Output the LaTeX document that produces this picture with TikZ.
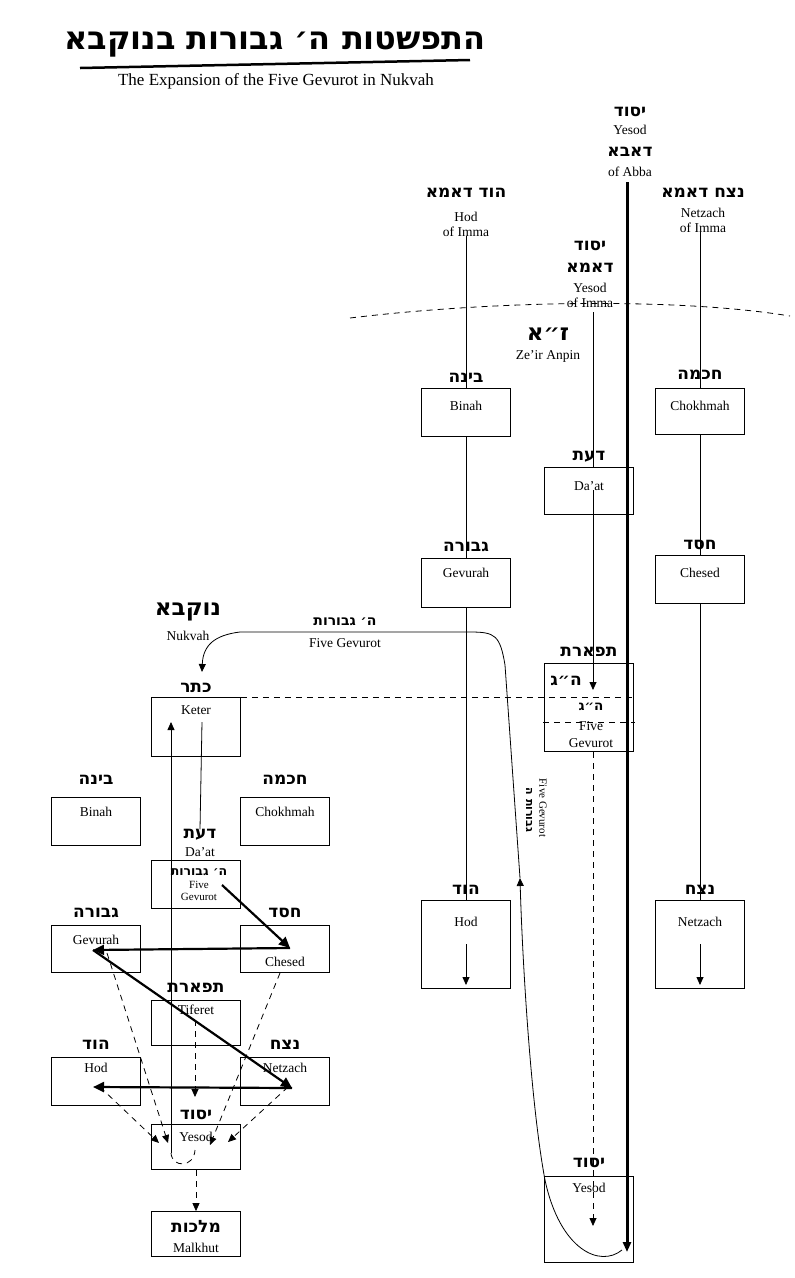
\documentclass[tikz,border=0pt]{standalone}
\usepackage{fontspec}
\setmainfont{Liberation Serif}
\newfontfamily\hebf{DejaVu Sans}
\TeXXeTstate=1
\newcommand{\heb}[1]{{\hebf\bfseries\beginR #1\endR}}
\usetikzlibrary{arrows.meta}

\tikzset{
  box/.style={draw,thick,minimum width=89pt,inner sep=0pt},
  en/.style={font=\fontsize{13.5}{15}\selectfont,inner sep=0pt},
  hb/.style={font=\fontsize{17}{18}\selectfont,inner sep=0pt},
  hbig/.style={font=\fontsize{23}{24}\selectfont,inner sep=0pt},
  dsh/.style={dashed,dash pattern=on 6pt off 5pt,thick},
  tip/.style={-{Triangle[length=8pt,width=7pt]}},
  fat/.style={line width=2.2pt,-{Triangle[length=11pt,width=10pt]}},
}

\begin{document}
\begin{tikzpicture}[x=1pt,y=-1pt]
  \useasboundingbox (0,0) rectangle (795,1278);

  % title
  \node[font=\fontsize{32}{33}\selectfont,inner sep=0pt] (title) at (275,44) {\heb{התפשטות ה׳ גבורות בנוקבא}};
  \draw[line width=2.5pt] (80,68) -- (470,60);
  \node[font=\fontsize{17}{18}\selectfont,inner sep=0pt] (sub) at (276,81) {The Expansion of the Five Gevurot in Nukvah};

  % upper partzufim
  \node[hb] (abbaH) at (630,112) {\heb{יסוד}};
  \node[en] (abbaE) at (630,130) {Yesod};
  \node[hb] (abbaH2) at (630,152) {\heb{דאבא}};
  \node[en] (abbaE2) at (630,172) {of Abba};
  \node[hb] (hodIH) at (466,193) {\heb{הוד דאמא}};
  \node[en,align=center] (hodIE) at (466,224) {Hod\\of Imma};
  \node[hb] (netIH) at (703,193) {\heb{נצח דאמא}};
  \node[en,align=center] (netIE) at (703,220) {Netzach\\of Imma};
  \node[hb] (yesIH) at (590,246) {\heb{יסוד}};
  \node[hb] (yesIH2) at (590,268) {\heb{דאמא}};
  \node[en,align=center] (yesIE) at (590,295) {Yesod\\of Imma};
  \draw[dsh] (350,318) .. controls (500,300) and (680,298) .. (790,316);
  \node[hbig] (zaH) at (548,334) {\heb{ז״א}};
  \node[en] (zaE) at (548,356) {Ze'ir Anpin};

  % Ze'ir Anpin sefirot
  \node[box,minimum height=48pt] (zBin) at (466,412) {};
  \node[hb] at (466,378) {\heb{בינה}};  \node[en] at (466,406) {Binah};
  \node[box,minimum height=46pt] (zChok) at (700,411) {};
  \node[hb] at (700,375) {\heb{חכמה}};  \node[en] at (700,406) {Chokhmah};
  \node[box,minimum height=47pt] (zDaat) at (589,491) {};
  \node[hb] at (589,457) {\heb{דעת}};  \node[en] at (589,486) {Da'at};
  \node[box,minimum height=49pt] (zGev) at (466,583) {};
  \node[hb] at (466,547) {\heb{גבורה}};  \node[en] at (466,573) {Gevurah};
  \node[box,minimum height=48pt] (zChes) at (700,579) {};
  \node[hb] at (700,545) {\heb{חסד}};  \node[en] at (700,573) {Chesed};
  \node[box,minimum height=88pt] (zTif) at (589,707) {};
  \node[hb] at (589,652) {\heb{תפארת}};
  \node[hb] at (566,681) {\heb{ה״ג}};
  \node[en] at (591,707) {\heb{ה״ג}};
  \node[en] at (591,726) {Five};
  \node[en] at (591,743) {Gevurot};
  \node[box,minimum height=88pt] (zHod) at (466,944) {};
  \node[hb] at (466,890) {\heb{הוד}};  \node[en] at (466,922) {Hod};
  \node[box,minimum height=88pt] (zNet) at (700,944) {};
  \node[hb] at (700,890) {\heb{נצח}};  \node[en] at (700,922) {Netzach};
  \node[box,minimum height=86pt] (zYes) at (589,1219) {};
  \node[hb] at (589,1163) {\heb{יסוד}};  \node[en] at (589,1188) {Yesod};

  % lines from Imma and Abba
  \draw[thick] (hodIE.south) -- (zBin.north);
  \draw[thick] (zBin) -- (zGev) -- (zHod);
  \draw[thick,tip] (466,944) -- (466,985);
  \draw[thick] (netIE.south -| zChok.north) -- (zChok.north);
  \draw[thick] (zChok) -- (zChes) -- (zNet);
  \draw[thick,tip] (700,944) -- (700,985);
  \draw[thick] (593,312) -- (593,467);
  \draw[thick,tip] (593,490) -- (593,690);
  \draw[dsh] (543,722) -- (635,722);
  \draw[dsh,tip] (593,752) -- (593,1226);
  \coordinate (abbaEnd) at (627,1252);
  \draw[line width=3pt,-{Triangle[length=10pt,width=8pt]}] (627,182) -- (abbaEnd);

  % Nukvah
  \node[hbig] (nukH) at (188,612) {\heb{נוקבא}};
  \node[en] (nukE) at (188,636) {Nukvah};
  \node[hb,font=\fontsize{14}{15}\selectfont] at (345,622) {\heb{ה׳ גבורות}};
  \node[en] at (345,643) {Five Gevurot};
  \node[box,minimum height=59pt] (kKet) at (196,727) {};
  \node[hb] at (196,688) {\heb{כתר}};  \node[en] at (196,710) {Keter};
  \node[box,minimum height=48pt] (kBin) at (96,821) {};
  \node[hb] at (96,780) {\heb{בינה}};  \node[en] at (96,812) {Binah};
  \node[box,minimum height=48pt] (kChok) at (285,821) {};
  \node[hb] at (285,780) {\heb{חכמה}};  \node[en] at (285,812) {Chokhmah};
  \node[hb] (kDaatH) at (200,835) {\heb{דעת}};
  \node[en] at (200,852) {Da'at};
  \node[box,minimum height=48pt] (kDaat) at (196,884) {};
  \node[en,font=\fontsize{12.5}{13}\selectfont] at (199,872) {\heb{ה׳ גבורות}};
  \node[en,font=\fontsize{11}{12}\selectfont] at (199,885) {Five};
  \node[en,font=\fontsize{11}{12}\selectfont] at (199,897) {Gevurot};
  \node[box,minimum height=47pt] (kGev) at (96,949) {};
  \node[hb] at (96,913) {\heb{גבורה}};  \node[en] at (96,940) {Gevurah};
  \node[box,minimum height=47pt] (kChes) at (285,949) {};
  \node[hb] at (285,913) {\heb{חסד}};  \node[en] at (285,962) {Chesed};
  \node[box,minimum height=45pt] (kTif) at (196,1023) {};
  \node[hb] at (196,988) {\heb{תפארת}};  \node[en] at (196,1010) {Tiferet};
  \node[box,minimum height=48pt] (kHod) at (96,1081) {};
  \node[hb] at (96,1045) {\heb{הוד}};  \node[en] at (96,1068) {Hod};
  \node[box,minimum height=48pt] (kNet) at (285,1081) {};
  \node[hb] at (285,1045) {\heb{נצח}};  \node[en] at (285,1068) {Netzach};
  \node[box,minimum height=45pt] (kYes) at (196,1147) {};
  \node[hb] at (196,1115) {\heb{יסוד}};  \node[en] at (196,1137) {Yesod};
  \node[box,minimum height=45pt] (kMal) at (196,1234) {};
  \node[hb] at (196,1226) {\heb{מלכות}};  \node[en] at (196,1248) {Malkhut};

  % dashed line Keter to Tiferet of ZA
  \draw[dsh] (kKet.north east) -- (zTif.east |- kKet.north east);

  % Five Gevurot path from Yesod of ZA to Nukvah
  \coordinate (gevMid) at (520,878);
  \draw[thick,tip] (622,1250) .. controls (600,1268) and (560,1250) .. (545,1180)
      .. controls (530,1100) and (522,950) .. (gevMid);
  \draw[thick,tip] (gevMid) -- (505,665) .. controls (500,635) and (495,632) .. (470,632)
      -- (240,632) .. controls (215,635) and (203,645) .. (202,672);
  \node[en,rotate=-90,font=\fontsize{11}{12}\selectfont] at (543,808) {Five Gevurot};
  \node[en,rotate=-90,font=\fontsize{11}{12}\selectfont] at (529,810) {\heb{גבורות ה}};

  % Nukvah inner lines
  \draw[thick] (202,722) -- (kDaatH.north);
  \draw[thick,tip] (171,1153) -- (171,722);
  \draw[dsh] (171,1153) .. controls (172,1168) and (194,1168) .. (195,1150);
  \draw[fat] (222,885) -- (290,948);
  \draw[fat] (290,948) -- (93,950);
  \draw[fat] (93,950) -- (292,1088);
  \draw[fat] (292,1088) -- (93,1087);
  \draw[dsh,tip] (107,953) -- (168,1143);
  \draw[dsh,tip] (280,973) -- (210,1145);
  \draw[dsh,tip] (100,1087) -- (159,1143);
  \draw[dsh,tip] (288,1087) -- (228,1142);
  \draw[dsh,tip] (195,1020) -- (195,1097);
  \draw[dsh,tip] (kYes.south) -- (kMal.north);
\end{tikzpicture}
\end{document}
